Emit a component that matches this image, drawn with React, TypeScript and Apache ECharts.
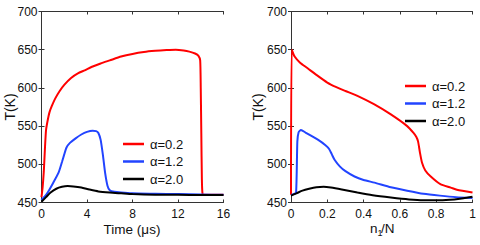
import React, { useEffect, useRef } from "react";
import * as echarts from "echarts";

const seriesNames = ["α=0.2", "α=1.2", "α=2.0"];
const seriesColors = ["#ff0000", "#2244ff", "#000000"];

// Left panel: time (μs) vs T(K)
const leftRedT = [0, 0.1, 0.2, 0.3, 0.4, 0.55, 0.7, 0.9, 1.2, 1.6, 2.0, 2.6, 3.2, 3.8, 4.5, 5.2, 6.0, 7.0, 8.0, 9.0, 10.0, 11.0, 11.8, 12.5, 13.0, 13.5, 13.8, 13.95, 14.0, 14.05, 14.1, 14.15, 14.25, 16];
const leftRedK = [457, 470, 490, 520, 545, 558, 568, 576, 586, 596, 604, 613, 619, 623, 628, 632, 636, 641, 644.5, 647, 648.5, 649.5, 650, 649, 647.5, 645, 642, 636, 600, 540, 480, 462, 460, 460];
const leftBlueT = [0, 0.5, 1.0, 1.5, 1.8, 2.0, 2.2, 2.5, 3.0, 3.5, 4.0, 4.5, 4.8, 5.0, 5.2, 5.4, 5.6, 5.8, 6.0, 6.4, 7.0, 8.0, 10.0, 12.0, 14.0, 16.0];
const leftBlueK = [453, 462, 475, 489, 503, 513, 522, 528, 534, 539, 542.5, 544, 543.5, 541, 532, 512, 488, 472, 466, 464, 463, 462, 461.5, 461, 460.5, 460];
const leftBlackT = [0, 0.4, 0.8, 1.3, 1.8, 2.3, 2.8, 3.5, 4.2, 5.0, 6.0, 7.0, 8.0, 10.0, 12.0, 14.0, 16.0];
const leftBlackK = [451, 457, 463, 468, 470.5, 471.5, 471, 469.5, 467, 464.5, 463, 462, 461, 460.2, 460, 459.8, 459.7];

// Right panel: n1/N vs T(K)
const rightRedX = [0, 0.004, 0.02, 0.05, 0.09, 0.14, 0.2, 0.25, 0.3, 0.366, 0.457, 0.548, 0.64, 0.675, 0.69, 0.70, 0.71, 0.722, 0.74, 0.77, 0.823, 0.88, 0.914, 1.0];
const rightRedK = [460, 650, 641, 633, 626, 617, 607, 601, 596, 589.6, 578.7, 565.6, 550, 541, 536, 530, 516, 502, 492, 484, 474, 469.5, 466.6, 463];
const rightBlueX = [0, 0.015, 0.028, 0.035, 0.042, 0.055, 0.08, 0.11, 0.15, 0.19, 0.21, 0.225, 0.24, 0.27, 0.3, 0.35, 0.4, 0.46, 0.55, 0.64, 0.73, 0.82, 0.91, 1.0];
const rightBlueK = [460, 461, 463, 530, 542, 545, 541.5, 537.5, 532, 525, 520, 513, 506, 497, 491, 484, 479.5, 476, 470, 465.5, 461.5, 459, 457, 456];
const rightBlackX = [0, 0.03, 0.063, 0.1, 0.14, 0.18, 0.22, 0.28, 0.366, 0.45, 0.55, 0.65, 0.73, 0.82, 0.9, 0.95, 1.0];
const rightBlackK = [459, 462, 465.5, 468, 470, 470.5, 469.5, 467, 463, 459.5, 456.5, 454, 453, 453, 454, 455.5, 457.5];

const yMin = 450;
const yMax = 700;
const yStep = 50;
const leftXMax = 16;
const leftXStep = 4;
const rightXMax = 1;
const rightXStep = 0.2;

const FONT = "'Liberation Sans', Arial, Helvetica, sans-serif";

function pairs(xs: number[], ys: number[]) {
  return xs.map((x, i) => [x, ys[i]]);
}

export default function App() {
  const ref = useRef<HTMLDivElement>(null);
  useEffect(() => {
    if (!ref.current) return;
    const chart = echarts.init(ref.current, null, { renderer: "svg" });
    const axisLine = { show: true, lineStyle: { color: "#333", width: 1 } };
    const tick = { show: true, inside: true, length: 3, lineStyle: { color: "#333" } };
    const label = { color: "#111", fontSize: 12, fontFamily: FONT };
    const mkX = (grid: number, max: number, step: number, pos: "bottom" | "top", showLabel: boolean) => ({
      type: "value",
      gridIndex: grid,
      position: pos,
      min: 0,
      max,
      interval: step,
      axisLine,
      axisTick: tick,
      axisLabel: showLabel ? { ...label, margin: 5 } : { show: false },
      splitLine: { show: false },
    });
    const mkY = (grid: number, pos: "left" | "right", showLabel: boolean) => ({
      type: "value",
      gridIndex: grid,
      position: pos,
      min: yMin,
      max: yMax,
      interval: yStep,
      axisLine,
      axisTick: tick,
      axisLabel: showLabel ? { ...label, margin: 4 } : { show: false },
      splitLine: { show: false },
    });
    const left = [pairs(leftRedT, leftRedK), pairs(leftBlueT, leftBlueK), pairs(leftBlackT, leftBlackK)];
    const right = [pairs(rightRedX, rightRedK), pairs(rightBlueX, rightBlueK), pairs(rightBlackX, rightBlackK)];
    const series: any[] = [];
    const mkSeries = (d: number[][], i: number, axis: number) => ({
      type: "line",
      name: seriesNames[i],
      xAxisIndex: axis,
      yAxisIndex: axis,
      data: d,
      symbol: "none",
      smooth: 0.2,
      lineStyle: { color: seriesColors[i], width: 2 },
      itemStyle: { color: seriesColors[i] },
    });
    left.forEach((d, i) => series.push(mkSeries(d, i, 0)));
    right.forEach((d, i) => series.push(mkSeries(d, i, 2)));
    const legendBase = {
      orient: "vertical",
      data: seriesNames,
      icon: "rect",
      itemWidth: 21,
      itemHeight: 2.5,
      itemGap: 2.5,
      padding: 0,
      selectedMode: false,
      textStyle: { color: "#111", fontSize: 13, fontFamily: FONT, lineHeight: 15, padding: [0, 0, 0, 1] },
    };
    chart.setOption({
      animation: false,
      backgroundColor: "#fff",
      grid: [
        { left: 41.5, top: 11.5, width: 182, height: 191 },
        { left: 291, top: 11.5, width: 181.5, height: 191 },
      ],
      xAxis: [
        mkX(0, leftXMax, leftXStep, "bottom", true),
        mkX(0, leftXMax, leftXStep, "top", false),
        mkX(1, rightXMax, rightXStep, "bottom", true),
        mkX(1, rightXMax, rightXStep, "top", false),
      ],
      yAxis: [mkY(0, "left", true), mkY(0, "right", false), mkY(1, "left", true), mkY(1, "right", false)],
      legend: [
        { ...legendBase, left: 123, top: 136.5 },
        { ...legendBase, left: 405, top: 78.5 },
      ],
      graphic: [
        { type: "text", x: 10, y: 107, rotation: Math.PI / 2, style: { text: "T(K)", fontSize: 14, fontFamily: FONT, fill: "#111", textAlign: "center", textVerticalAlign: "middle" } },
        { type: "text", x: 258, y: 107, rotation: Math.PI / 2, style: { text: "T(K)", fontSize: 14, fontFamily: FONT, fill: "#111", textAlign: "center", textVerticalAlign: "middle" } },
        { type: "text", x: 132, y: 229, style: { text: "Time (μs)", fontSize: 13.5, fontFamily: FONT, fill: "#111", textAlign: "center", textVerticalAlign: "middle" } },
        { type: "text", x: 370, y: 228, style: { text: "n", fontSize: 13.5, fontFamily: FONT, fill: "#111", textAlign: "left", textVerticalAlign: "middle" } },
        { type: "text", x: 377.5, y: 233, style: { text: "1", fontSize: 9, fontFamily: FONT, fill: "#111", textAlign: "left", textVerticalAlign: "middle" } },
        { type: "text", x: 381, y: 228, style: { text: "/N", fontSize: 13.5, fontFamily: FONT, fill: "#111", textAlign: "left", textVerticalAlign: "middle" } },
      ],
      series,
    });
    return () => chart.dispose();
  }, []);
  return <div ref={ref} style={{ position: "absolute", left: 0, top: 0, width: 480, height: 245 }} />;
}
